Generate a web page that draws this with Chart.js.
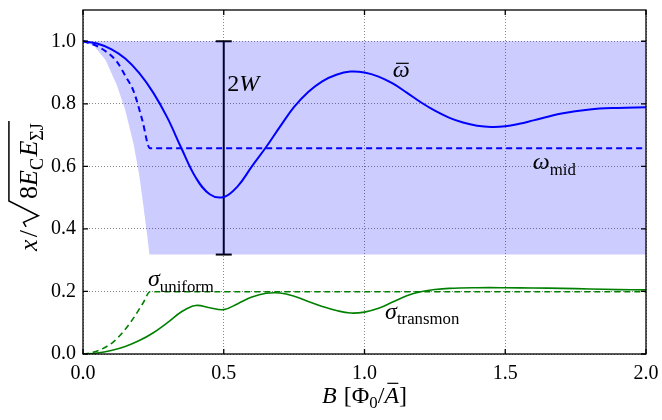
<!DOCTYPE html>
<html>
<head>
<meta charset="utf-8">
<script src="https://cdn.jsdelivr.net/npm/chart.js@4.4.0/dist/chart.umd.min.js"></script>
<style>
  html, body { margin: 0; padding: 0; background: #fff; }
  #wrap { width: 662px; height: 420px; }
</style>
</head>
<body>
<div id="wrap"><canvas id="chart" width="662" height="420"></canvas></div>
<script>
// ── DATA ─────────────────────────────────────────────────────
const xTicks = [0, 0.5, 1.0, 1.5, 2.0];
const yTicks = [0, 0.2, 0.4, 0.6, 0.8, 1.0];

// lower edge of the shaded band (upper edge is x = 1)
const bandB   = [0, 0.04, 0.08, 0.12, 0.15, 0.18, 0.20, 0.215, 0.228, 0.236, 2.0];
const bandLow = [1.0, 0.985, 0.94, 0.86, 0.78, 0.67, 0.57, 0.47, 0.38, 0.318, 0.318];

// omega bar (solid blue)
const omegaB = [0, 0.05, 0.10, 0.15, 0.20, 0.25, 0.30, 0.35, 0.40, 0.45, 0.50, 0.55, 0.60, 0.65, 0.70, 0.75, 0.80, 0.85, 0.90, 0.95,
                1.00, 1.05, 1.10, 1.15, 1.20, 1.25, 1.30, 1.35, 1.40, 1.45, 1.50, 1.55, 1.60, 1.70, 1.80, 1.90, 2.00];
const omegaY = [1.0, 0.993, 0.975, 0.945, 0.898, 0.835, 0.755, 0.657, 0.565, 0.511, 0.502, 0.537, 0.600, 0.661, 0.727, 0.790, 0.838, 0.872, 0.893, 0.903,
                0.900, 0.887, 0.865, 0.836, 0.805, 0.778, 0.756, 0.740, 0.730, 0.726, 0.728, 0.736, 0.747, 0.769, 0.782, 0.787, 0.789];

// omega mid (dashed blue)
const midB = [0, 0.06, 0.12, 0.15, 0.18, 0.21, 0.238, 2.0];
const midY = [1.0, 0.98, 0.935, 0.89, 0.84, 0.75, 0.658, 0.658];

// sigma uniform (dashed green)
const uniB = [0, 0.025, 0.06, 0.107, 0.142, 0.178, 0.214, 0.238, 2.0];
const uniY = [0, 0.003, 0.013, 0.038, 0.07, 0.113, 0.164, 0.199, 0.199];

// sigma transmon (solid green)
const traB = [0, 0.05, 0.10, 0.15, 0.20, 0.25, 0.30, 0.35, 0.40, 0.45, 0.50, 0.55, 0.60, 0.65, 0.70, 0.75, 0.80, 0.85, 0.90, 0.95,
              1.00, 1.05, 1.10, 1.15, 1.20, 1.25, 1.30, 1.40, 1.50, 1.60, 1.70, 1.80, 1.90, 2.00];
const traY = [0, 0.003, 0.011, 0.024, 0.043, 0.068, 0.100, 0.135, 0.155, 0.148, 0.142, 0.161, 0.182, 0.194, 0.195, 0.185, 0.168, 0.152, 0.139, 0.131,
              0.134, 0.146, 0.166, 0.186, 0.199, 0.206, 0.210, 0.212, 0.212, 0.211, 0.210, 0.208, 0.206, 0.205];

// 2W bar
const errB = [0.5, 0.5];
const errY = [0.318, 1.0];

// ── HELPERS ──────────────────────────────────────────────────
const SERIF = '"Liberation Serif", "DejaVu Serif", serif';
const pts = (xs, ys) => xs.map((x, i) => ({ x, y: ys[i] }));

// parts: [text, kind, extra] kind: r roman, i italic, s subscript roman, gap
function drawMath(ctx, parts, x, y, size, align, measureOnly) {
  let cx = x;
  if (align === 'center' && !measureOnly) {
    cx = x - drawMath(ctx, parts, 0, 0, size, 'left', true) / 2;
  }
  const start = cx;
  for (const p of parts) {
    const [t, k, extra] = p;
    if (k === 'gap') { cx += size * t; continue; }
    const sub = k === 's';
    const fs = sub ? size * 0.7 : size;
    ctx.font = (k === 'i' ? 'italic ' : '') + fs + 'px ' + SERIF;
    const w = ctx.measureText(t).width;
    if (!measureOnly) {
      ctx.fillText(t, cx, sub ? y + size * 0.22 : y);
      if (extra === 'bar') {
        const by = y - size * (/[A-Z]/.test(t) ? 0.82 : 0.58);
        ctx.beginPath();
        ctx.moveTo(cx + w * 0.2, by);
        ctx.lineTo(cx + w * 0.95, by);
        ctx.lineWidth = size * 0.05;
        ctx.stroke();
      }
    }
    cx += w;
  }
  return cx - start;
}

// ── FRAME, TICKS, LABELS ─────────────────────────────────────
const decor = {
  id: 'decor',
  afterDraw(chart) {
    const { ctx, chartArea: a, scales: { x, y } } = chart;
    ctx.save();
    ctx.strokeStyle = '#000';
    ctx.fillStyle = '#000';
    ctx.lineWidth = 1.3;
    ctx.strokeRect(a.left, a.top, a.right - a.left, a.bottom - a.top);
    ctx.beginPath();
    xTicks.forEach(v => {
      const px = x.getPixelForValue(v);
      ctx.moveTo(px, a.bottom); ctx.lineTo(px, a.bottom - 5);
      ctx.moveTo(px, a.top);    ctx.lineTo(px, a.top + 5);
    });
    yTicks.forEach(v => {
      const py = y.getPixelForValue(v);
      ctx.moveTo(a.left, py);  ctx.lineTo(a.left + 5, py);
      ctx.moveTo(a.right, py); ctx.lineTo(a.right - 5, py);
    });
    ctx.stroke();

    ctx.textBaseline = 'alphabetic';
    ctx.textAlign = 'left';
    const F = 24;
    const at = (bx, by) => [x.getPixelForValue(bx), y.getPixelForValue(by)];

    let p = at(0.512, 0.842);
    drawMath(ctx, [['2', 'r'], ['W', 'i']], p[0], p[1], F);
    p = at(1.10, 0.885);
    drawMath(ctx, [['ω', 'i', 'bar']], p[0], p[1], F);
    p = at(1.598, 0.59);
    drawMath(ctx, [['ω', 'i'], ['mid', 's']], p[0], p[1], F);
    p = at(0.231, 0.216);
    drawMath(ctx, [['σ', 'i'], ['uniform', 's']], p[0], p[1], F);
    p = at(1.073, 0.113);
    drawMath(ctx, [['σ', 'i'], ['transmon', 's']], p[0], p[1], F);

    // x axis title
    drawMath(ctx, [['B', 'i'], [0.3, 'gap'], ['[Φ', 'r'], ['0', 's'], ['/', 'r'], ['A', 'i', 'bar'], [']', 'r']],
      (a.left + a.right) / 2, 403, F, 'center');

    // y axis title, rotated, with radical
    const G = 26;
    ctx.translate(37, 187);
    ctx.rotate(-Math.PI / 2);
    const head = [['x', 'i'], [0.08, 'gap'], ['/', 'r']];
    const rad = [['8', 'r'], ['E', 'i'], ['C', 's'], [0.05, 'gap'], ['E', 'i'], ['ΣJ', 's']];
    const wHead = drawMath(ctx, head, 0, 0, G, 'left', true);
    const wRad = drawMath(ctx, rad, 0, 0, G, 'left', true);
    const wSym = G * 1.2;
    let sx = -(wHead + wSym + wRad) / 2;
    drawMath(ctx, head, sx, 0, G);
    sx += wHead;
    ctx.beginPath();
    ctx.lineWidth = 1.5;
    ctx.moveTo(sx + G * 0.12, -G * 0.42);
    ctx.lineTo(sx + G * 0.30, -G * 0.52);
    ctx.lineTo(sx + G * 0.55, G * 0.05);
    ctx.lineTo(sx + G * 1.12, -G * 1.08);
    ctx.lineTo(sx + wSym + wRad + 2, -G * 1.08);
    ctx.stroke();
    drawMath(ctx, rad, sx + wSym, 0, G);
    ctx.restore();
  }
};

// ── CHART ────────────────────────────────────────────────────
const line = (data, color, width, dash, extra) => Object.assign({
  data, borderColor: color, borderWidth: width, borderDash: dash,
  pointRadius: 0, showLine: true, fill: false,
  cubicInterpolationMode: 'monotone'
}, extra || {});
const smooth = { cubicInterpolationMode: 'default', tension: 0.4 };

new Chart(document.getElementById('chart'), {
  type: 'scatter',
  data: {
    datasets: [
      line(pts(bandB, bandLow), 'rgba(0,0,0,0)', 0, [], {
        fill: { value: 1 }, backgroundColor: 'rgba(0,0,255,0.2)', cubicInterpolationMode: 'default', tension: 0
      }),
      line(pts(omegaB, omegaY), '#0000ff', 2, [], smooth),
      line(pts(midB, midY), '#0000ff', 2, [6, 4]),
      line(pts(uniB, uniY), '#008000', 1.6, [6, 4]),
      line(pts(traB, traY), '#008000', 1.6, [], smooth),
      line(pts(errB, errY), '#000', 2, [], {
        pointRadius: 8, pointStyle: 'line', pointBorderColor: '#000', pointBorderWidth: 2
      })
    ]
  },
  options: {
    responsive: false,
    animation: false,
    layout: { padding: { top: 5, right: 16, left: 0, bottom: 0 } },
    plugins: { legend: { display: false }, tooltip: { enabled: false } },
    scales: {
      x: {
        type: 'linear', min: 0, max: 2, z: 1,
        afterFit: s => { s.height = 66; s.paddingLeft = 0; s.paddingRight = 0; },
        ticks: {
          stepSize: 0.5, padding: 8, color: '#000',
          font: { family: SERIF, size: 20 },
          callback: v => v.toFixed(1)
        },
        grid: { color: '#888', lineWidth: 1, drawTicks: false },
        border: { display: false, dash: [1, 2] }
      },
      y: {
        type: 'linear', min: 0, max: 1.1, z: 1,
        afterFit: s => { s.width = 83; s.paddingTop = 0; s.paddingBottom = 0; },
        ticks: {
          stepSize: 0.2, includeBounds: false, padding: 7, color: '#000',
          font: { family: SERIF, size: 20 },
          callback: v => v.toFixed(1)
        },
        grid: { color: '#888', lineWidth: 1, drawTicks: false },
        border: { display: false, dash: [1, 2] }
      }
    }
  },
  plugins: [decor]
});
</script>
</body>
</html>
